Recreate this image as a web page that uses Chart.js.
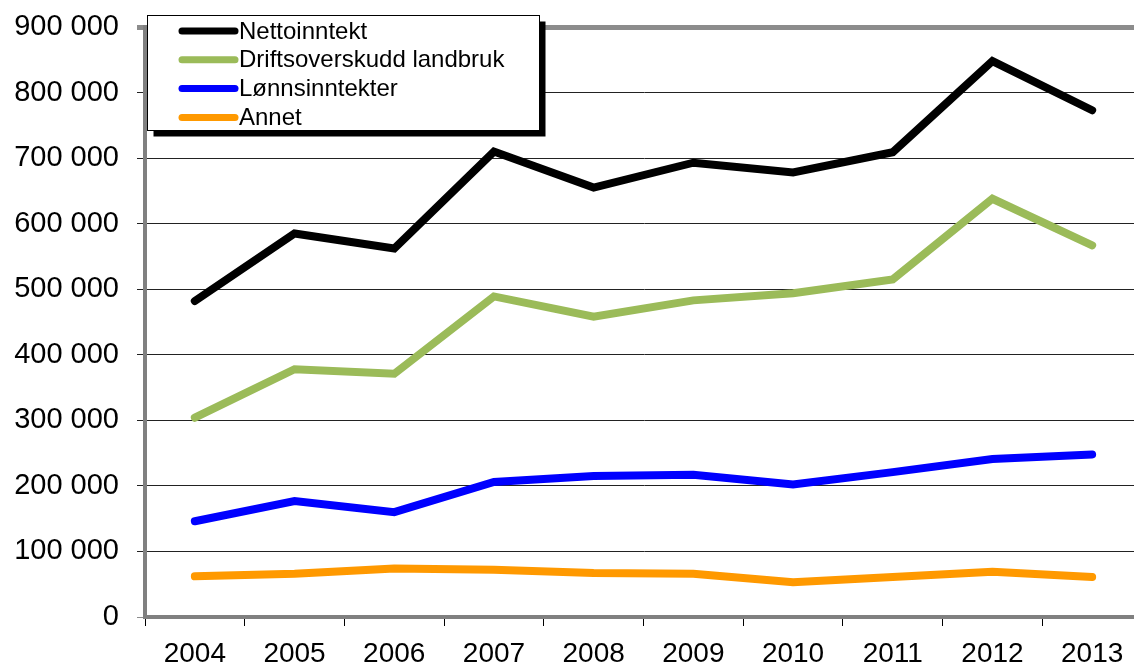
<!DOCTYPE html>
<html>
<head>
<meta charset="utf-8">
<script src="https://cdn.jsdelivr.net/npm/chart.js@4/dist/chart.umd.min.js"></script>
<style>
    html, body { margin: 0; padding: 0; background: #fff; overflow: hidden; }
    #wrap { width: 1142px; height: 664px; }
</style>
</head>
<body>
<div id="wrap"><canvas id="myChart" width="1142" height="664"></canvas></div>
<script>
// values, in NOK
const years = ["2004", "2005", "2006", "2007", "2008", "2009", "2010", "2011", "2012", "2013"];
const nettoinntekt = [482000, 585000, 562000, 710000, 655000, 693000, 678000, 709000, 848000, 773000];
const driftsoverskudd = [304000, 378000, 371000, 489000, 458000, 483000, 494000, 515000, 638000, 567000];
const lonnsinntekter = [146000, 177000, 160000, 206000, 215000, 217000, 202000, 221000, 241000, 248000];
const annet = [62000, 66000, 74000, 72000, 67000, 66000, 53000, 61000, 69000, 61000];

const seriesNames = ["Nettoinntekt", "Driftsoverskudd landbruk", "Lønnsinntekter", "Annet"];
const seriesColors = ["#000000", "#9bbb59", "#0000ff", "#ff9900"];

const yMin = 0;
const yMax = 900000;
const yStep = 100000;

const FONT = "'Liberation Sans', Arial, sans-serif";

/**
 * 900000 -> "900 000"
 * @param {number} v
 */
function formatNumber (v)
{
    return String(v).replace(/\B(?=(\d{3})+(?!\d))/g, " ");
}

function makeDataset (index, values)
{
    return {
        label: seriesNames[index],
        data: values,
        borderColor: seriesColors[index],
        backgroundColor: seriesColors[index],
        borderWidth: 8,
        borderCapStyle: "round",
        borderJoinStyle: "miter",
        pointRadius: 0,
        tension: 0,
        fill: false
    };
}

// legend box drawn by hand so it can sit inside the plot with its black shadow
const boxLegend = {
    id: "boxLegend",
    afterDraw (chart)
    {
        const ctx = chart.ctx;
        const x = 147.5, y = 15.5, w = 392, h = 115;
        ctx.save();
        ctx.fillStyle = "#000";
        ctx.fillRect(x + 6, y + 6, w, h);
        ctx.fillStyle = "#fff";
        ctx.fillRect(x, y, w, h);
        ctx.strokeStyle = "#000";
        ctx.lineWidth = 1;
        ctx.strokeRect(x, y, w, h);

        ctx.font = "24px " + FONT;
        ctx.textBaseline = "middle";
        ctx.textAlign = "left";
        chart.data.datasets.forEach((ds, i) => {
            const rowY = 31 + i * 28.8;
            ctx.beginPath();
            ctx.strokeStyle = ds.borderColor;
            ctx.lineWidth = 7;
            ctx.lineCap = "round";
            ctx.moveTo(182, rowY);
            ctx.lineTo(235, rowY);
            ctx.stroke();
            ctx.fillStyle = "#000";
            ctx.fillText(ds.label, 239, rowY + 1);
        });
        ctx.restore();
    }
};

const ctx = document.getElementById("myChart");

new Chart(ctx, {
    type: "line",
    data: {
        labels: years,
        datasets: [
            makeDataset(0, nettoinntekt),
            makeDataset(1, driftsoverskudd),
            makeDataset(2, lonnsinntekter),
            makeDataset(3, annet)
        ]
    },
    options: {
        responsive: false,
        animation: false,
        devicePixelRatio: 1,
        layout: { padding: { top: 27, right: 0, left: 0, bottom: 0 } },
        plugins: {
            legend: { display: false },
            tooltip: { enabled: false }
        },
        scales: {
            x: {
                offset: true,
                grid: {
                    offset: true,
                    drawOnChartArea: false,
                    drawTicks: true,
                    tickLength: 9,
                    color: "#000"
                },
                border: { color: "#808080", width: 4 },
                ticks: {
                    color: "#000",
                    padding: 11,
                    maxRotation: 0,
                    autoSkip: false,
                    font: { family: FONT, size: 28 }
                },
                afterFit (scale) { scale.height = 47; }
            },
            y: {
                min: yMin,
                max: yMax,
                grid: {
                    color: (c) => (c.tick && (c.tick.value === yMax || c.tick.value === yMin)) ? "#8c8c8c" : "#222",
                    lineWidth: (c) => (c.tick && c.tick.value === yMax) ? 5 : 1,
                    tickLength: 8
                },
                border: { color: "#808080", width: 4 },
                ticks: {
                    stepSize: yStep,
                    color: "#000",
                    padding: 18,
                    font: { family: FONT, size: 29 },
                    callback: (v) => formatNumber(v)
                },
                afterFit (scale) {
                    scale.width = 145;
                    scale.paddingTop = 0;
                    scale.paddingBottom = 0;
                }
            }
        }
    },
    plugins: [boxLegend]
});
</script>
</body>
</html>
